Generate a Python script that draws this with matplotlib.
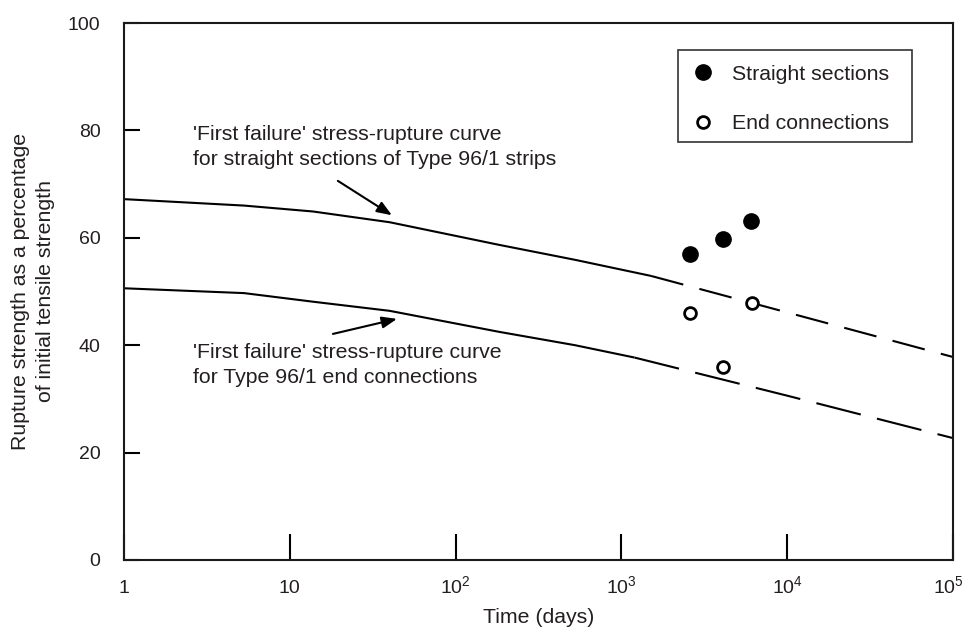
import matplotlib
matplotlib.use("Agg")
import matplotlib.pyplot as plt
from matplotlib.lines import Line2D
from matplotlib.patches import Rectangle
from matplotlib.transforms import ScaledTranslation

plt.rcParams['font.family'] = ['Liberation Sans', 'DejaVu Sans']
plt.rcParams['mathtext.fontset'] = 'custom'
plt.rcParams['mathtext.rm'] = 'Liberation Sans'
plt.rcParams['mathtext.it'] = 'Liberation Sans'
plt.rcParams['lines.scale_dashes'] = False

TXT = '#231f20'

# Data
upper_solid_x = [1, 5.3, 13.8, 40, 182, 525, 1510]
upper_solid_y = [67.2, 66.0, 64.9, 62.9, 58.7, 55.9, 52.9]
upper_dash_x = [1510, 10000, 100000]
upper_dash_y = [52.9, 46.1, 37.8]

lower_solid_x = [1, 5.3, 13.8, 40, 182, 525, 1200]
lower_solid_y = [50.6, 49.7, 48.1, 46.4, 42.5, 40.0, 37.7]
lower_dash_x = [1200, 10000, 100000]
lower_dash_y = [37.7, 30.6, 22.7]

straight_x = [2580, 4100, 6050]
straight_y = [57.0, 59.8, 63.1]
end_x = [2580, 4100, 6150]
end_y = [46.0, 35.9, 47.9]

xticks = [1, 10, 100, 1000, 10000, 100000]
xticklabels = ['1', '10', '$10^2$', '$10^3$', '$10^4$', '$10^5$']
yticks = [0, 20, 40, 60, 80, 100]
yticklabels = ['0', '20', '40', '60', '80', '100']

fig = plt.figure(figsize=(9.66, 6.33), dpi=100)
ax = fig.add_axes([124/966, 1-560/633, (953-124)/966, (560-23)/633])

lw = 1.5
ax.plot(upper_solid_x, upper_solid_y, color='black', lw=lw, solid_capstyle='butt',
        solid_joinstyle='round')
ax.plot(upper_dash_x, upper_dash_y, color='black', lw=lw, dashes=(24, 12), dash_capstyle='butt')
ax.plot(lower_solid_x, lower_solid_y, color='black', lw=lw, solid_capstyle='butt',
        solid_joinstyle='round')
ax.plot(lower_dash_x, lower_dash_y, color='black', lw=lw, dashes=(33, 12), dash_capstyle='butt')

ax.plot(straight_x, straight_y, 'o', color='black', ms=11, zorder=5)
ax.plot(end_x, end_y, 'o', mfc='white', mec='black', ms=8.5, mew=2, zorder=5)

ax.set_xscale('log')
ax.set_xlim(1, 100000)
ax.set_ylim(0, 100)
ax.set_xticks(xticks)
ax.set_xticklabels(xticklabels)
ax.xaxis.set_minor_locator(matplotlib.ticker.NullLocator())
ax.set_yticks(yticks)
ax.set_yticklabels(yticklabels)

ax.tick_params(axis='x', direction='in', length=19, width=1.5, pad=23.8,
               labelsize=14, colors='black', labelcolor=TXT)
ax.tick_params(axis='y', direction='in', length=11.5, width=1.5, pad=17,
               labelsize=14, colors='black', labelcolor=TXT)
xlabs = ax.get_xticklabels()
for lab in xlabs:
    lab.set_verticalalignment('baseline')
xlabs[-1].set_transform(xlabs[-1].get_transform() +
                        ScaledTranslation(-0.05, 0, fig.dpi_scale_trans))
for s in ax.spines.values():
    s.set_linewidth(1.5)
    s.set_color('#1a1a1a')

ax.set_xlabel('Time (days)', fontsize=15.3, color=TXT, labelpad=8)
ax.set_ylabel('Rupture strength as a percentage\nof initial tensile strength',
              fontsize=15.3, color=TXT, labelpad=9, linespacing=1.45)

ax.text(2.61, 76.9, "'First failure' stress-rupture curve\nfor straight sections of Type 96/1 strips",
        fontsize=15.3, color=TXT, ha='left', va='center', linespacing=1.45)
ax.text(2.61, 36.3, "'First failure' stress-rupture curve\nfor Type 96/1 end connections",
        fontsize=15.3, color=TXT, ha='left', va='center', linespacing=1.4)

arrow = dict(arrowstyle='-|>,head_length=0.9,head_width=0.35', color='black', lw=1.5,
             shrinkA=0, shrinkB=0)
ax.annotate('', xy=(41.3, 64.2), xytext=(19.5, 70.6), arrowprops=arrow)
ax.annotate('', xy=(44.3, 44.9), xytext=(18.2, 42.1), arrowprops=arrow)

handles = [Line2D([], [], ls='none', marker='o', color='black', ms=11),
           Line2D([], [], ls='none', marker='o', mfc='white', mec='black', ms=8.5, mew=2)]
leg = ax.legend(handles, ['Straight sections', 'End connections'],
                loc='upper left', bbox_to_anchor=(0.668, 0.950), borderaxespad=0,
                fontsize=15.3, frameon=False,
                labelspacing=1.44, handlelength=1.0, handletextpad=0.87,
                borderpad=0.7, labelcolor=TXT)
ax.add_patch(Rectangle((0.668, 0.778), 0.951 - 0.668, 0.950 - 0.778,
                       transform=ax.transAxes, fill=False, edgecolor='#333333',
                       lw=1.2, zorder=6))

fig.savefig('out.png', dpi=100)
